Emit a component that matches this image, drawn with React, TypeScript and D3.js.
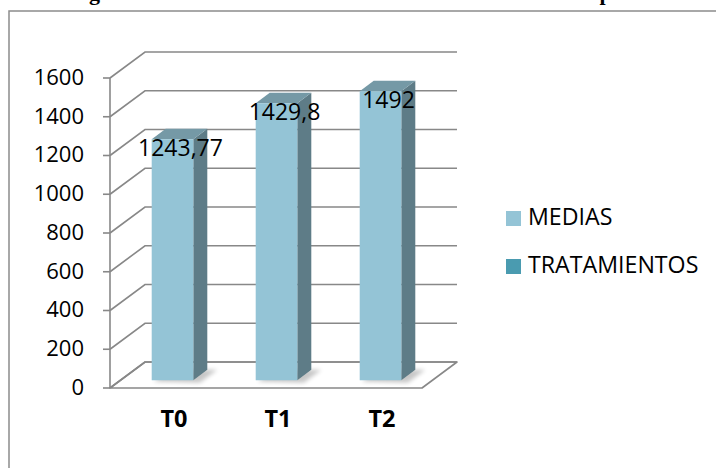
import React from "react";
import * as d3 from "d3";

// Chart data
const categories = ["T0", "T1", "T2"];
const medias = [1243.77, 1429.8, 1492];
const mediaLabels = ["1243,77", "1429,8", "1492"];
const yTicks = [0, 200, 400, 600, 800, 1000, 1200, 1400, 1600];
const legendItems = ["MEDIAS", "TRATAMIENTOS"];

const W = 716;
const H = 468;

// Pseudo-3D depth offset of the back wall
const DX = 35;
const DY = -26;
const Z0 = 0.3; // bar front depth
const Z1 = 0.7; // bar back depth

const COL_FRONT = "#94c4d6";
const COL_SIDE = "#5e7c87";
const COL_TOP = "#7599a6";
const COL_LEG2 = "#4a9bb0";
const GRID = "#888888";
const FONT = "'Open Sans', 'Noto Sans', sans-serif";

export default function App() {
  const y = d3.scaleLinear().domain([0, 1600]).range([388, 78]);
  const x = d3
    .scaleBand<string>()
    .domain(categories)
    .range([110, 422])
    .paddingInner(0.6)
    .paddingOuter(0.3);

  const P = (px: number, v: number, z: number): [number, number] => [
    px + DX * z,
    y(v) + DY * z,
  ];
  const poly = (pts: [number, number][]) =>
    pts.map((p) => p.join(",")).join(" ");

  const [x0, x1] = [110, 422];

  return (
    <svg
      width={W}
      height={H}
      style={{ position: "absolute", left: 0, top: 0, background: "#fff" }}
    >
      <defs>
        <filter id="soft" x="-50%" y="-50%" width="200%" height="200%">
          <feGaussianBlur stdDeviation="2" />
        </filter>
      </defs>

      {/* heading text cut off by the page top */}
      <g fontFamily="'Liberation Serif', 'DejaVu Serif', serif" fontWeight="bold" fontSize={22} fill="#000">
        <text x={94.5} y={-0.5} textAnchor="middle">g</text>
        <text x={599.5} y={-0.3}>p</text>
      </g>

      {/* chart frame */}
      <rect x={9} y={11} width={800} height={600} fill="none" stroke="#8c8c8c" strokeWidth={1.5} />

      {/* floor */}
      <polygon
        points={poly([P(x0, 0, 0), P(x1, 0, 0), P(x1, 0, 1), P(x0, 0, 1)])}
        fill="#fff"
        stroke={GRID}
        strokeWidth={1.6}
        strokeLinejoin="round"
      />

      {/* gridlines on side and back walls */}
      {yTicks.map((t) => {
        const a = P(x0, t, 0);
        const b = P(x0, t, 1);
        const c = P(x1, t, 1);
        return (
          <g key={t}>
            <polyline
              points={poly([a, b, c])}
              fill="none"
              stroke={GRID}
              strokeWidth={1.6}
            />
            <line x1={a[0] - 7} x2={a[0]} y1={a[1]} y2={a[1]} stroke={GRID} strokeWidth={1.6} />
            <text
              x={84}
              y={a[1] + 1}
              textAnchor="end"
              dominantBaseline="middle"
              fontFamily={FONT}
              fontSize={22}
              fill="#000"
            >
              {t}
            </text>
          </g>
        );
      })}
      <line x1={x0} x2={x0} y1={y(1600)} y2={y(0)} stroke={GRID} strokeWidth={1.6} />

      {/* bars */}
      {categories.map((c, i) => {
        const bx0 = x(c)!;
        const bx1 = bx0 + x.bandwidth();
        const v = medias[i];
        const front = [P(bx0, 0, Z0), P(bx1, 0, Z0), P(bx1, v, Z0), P(bx0, v, Z0)] as [number, number][];
        const side = [P(bx1, 0, Z0), P(bx1, 0, Z1), P(bx1, v, Z1), P(bx1, v, Z0)] as [number, number][];
        const top = [P(bx0, v, Z0), P(bx1, v, Z0), P(bx1, v, Z1), P(bx0, v, Z1)] as [number, number][];
        const shadow = [
          P(bx0 + 4, 0, Z0 - 0.05),
          P(bx1 + 10, 0, Z0 - 0.1),
          P(bx1 + 10, 0, Z1),
          P(bx0 + 4, 0, Z1),
        ] as [number, number][];
        return (
          <g key={c}>
            <polygon points={poly(shadow)} fill="#000" opacity={0.22} filter="url(#soft)" />
            <polygon points={poly(side)} fill={COL_SIDE} />
            <polygon points={poly(top)} fill={COL_TOP} />
            <polygon points={poly(front)} fill={COL_FRONT} />
          </g>
        );
      })}

      {/* value labels */}
      {categories.map((c, i) => {
        const cx = x(c)! + x.bandwidth() / 2 + DX * Z0 + 8;
        const ty = P(0, medias[i], Z0)[1] + 17;
        return (
          <text
            key={c}
            x={cx}
            y={ty}
            textAnchor="middle"
            fontFamily={FONT}
            fontSize={23}
            fill="#000"
          >
            {mediaLabels[i]}
          </text>
        );
      })}

      {/* category labels */}
      {categories.map((c) => (
        <text
          key={c}
          x={x(c)! + x.bandwidth() / 2 + 12}
          y={421}
          textAnchor="middle"
          dominantBaseline="middle"
          fontFamily={FONT}
          fontWeight="bold"
          fontSize={23.5}
          fill="#000"
        >
          {c}
        </text>
      ))}

      {/* legend */}
      {legendItems.map((d, i) => (
        <g key={d} transform={`translate(506, ${211 + i * 48})`}>
          <rect width={15} height={15} fill={i === 0 ? COL_FRONT : COL_LEG2} />
          <text
            x={22}
            y={8}
            dominantBaseline="middle"
            fontFamily={FONT}
            fontSize={23.2}
            fill="#000"
          >
            {d}
          </text>
        </g>
      ))}
    </svg>
  );
}
